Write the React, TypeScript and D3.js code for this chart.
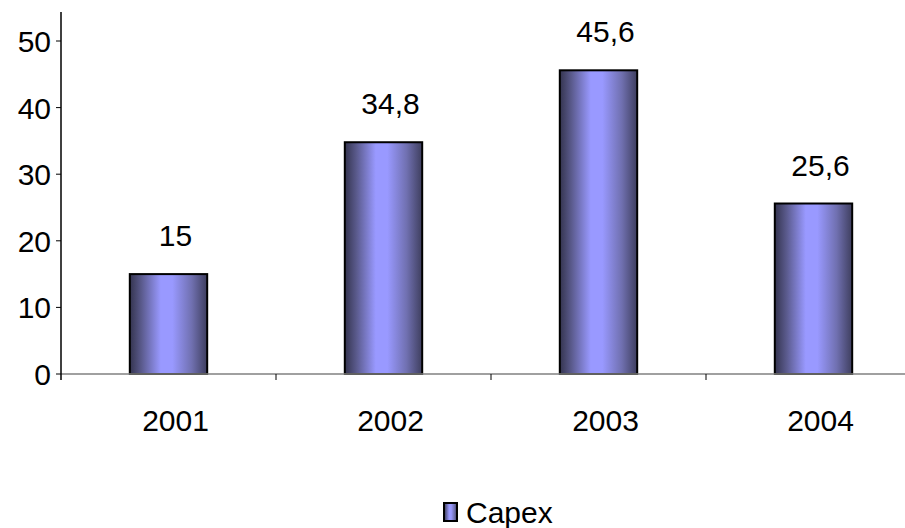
import React from "react";
import * as d3 from "d3";

const categories = ["2001", "2002", "2003", "2004"];
const capex = [15, 34.8, 45.6, 25.6];
const valueLabels = ["15", "34,8", "45,6", "25,6"];
const yTicks = [0, 10, 20, 30, 40, 50];
const seriesName = "Capex";

export default function App() {
  const W = 905, H = 528;
  const x0 = 61, step = 215, plotRight = x0 + 4 * step;
  const y = d3.scaleLinear().domain([0, 50]).range([374, 41]);
  const x = d3.scaleBand().domain(categories).range([x0, plotRight]).paddingInner(0.64).paddingOuter(0.32);
  const font = "Liberation Sans, Arial, sans-serif";
  return (
    <svg width={W} height={H} style={{ position: "absolute", left: 0, top: 0 }}>
      <defs>
        <linearGradient id="barGrad" x1="0" x2="1" y1="0" y2="0">
          <stop offset="0%" stopColor="#34344f" />
          <stop offset="15%" stopColor="#5a5a8c" />
          <stop offset="40%" stopColor="#9999ff" />
          <stop offset="55%" stopColor="#9999ff" />
          <stop offset="80%" stopColor="#7070b0" />
          <stop offset="100%" stopColor="#3e3e5e" />
        </linearGradient>
      </defs>
      <rect width={W} height={H} fill="#fff" />
      {categories.map((c, i) => {
        const bx = x(c)!;
        const bw = x.bandwidth();
        const top = y(capex[i]);
        return (
          <g key={c}>
            <rect x={bx} y={top} width={bw} height={y(0) - top} fill="url(#barGrad)" stroke="#000" strokeWidth={2} />
            <text x={bx + bw / 2 + 7} y={top - 28} textAnchor="middle" fontFamily={font} fontSize={30} fill="#000">
              {valueLabels[i]}
            </text>
            <text x={bx + bw / 2 + 7} y={431} textAnchor="middle" fontFamily={font} fontSize={30} fill="#000">
              {c}
            </text>
          </g>
        );
      })}
      <line x1={x0} x2={plotRight} y1={y(0)} y2={y(0)} stroke="#808080" strokeWidth={1.5} />
      {[1, 2, 3].map((i) => (
        <line key={i} x1={x0 + i * step} x2={x0 + i * step} y1={y(0)} y2={y(0) + 6} stroke="#000" strokeWidth={1} />
      ))}
      <line x1={x0} x2={x0} y1={12} y2={380} stroke="#000" strokeWidth={1.5} />
      {yTicks.map((t) => (
        <g key={t}>
          <line x1={x0 - 5} x2={x0} y1={y(t)} y2={y(t)} stroke="#000" strokeWidth={1} />
          <text x={x0 - 10} y={y(t) + 11} textAnchor="end" fontFamily={font} fontSize={30} fill="#000">
            {t}
          </text>
        </g>
      ))}
      <rect x={444} y={503} width={13} height={18} fill="url(#barGrad)" stroke="#000" strokeWidth={2} />
      <text x={466} y={523} fontFamily={font} fontSize={30} fill="#000">
        {seriesName}
      </text>
    </svg>
  );
}
